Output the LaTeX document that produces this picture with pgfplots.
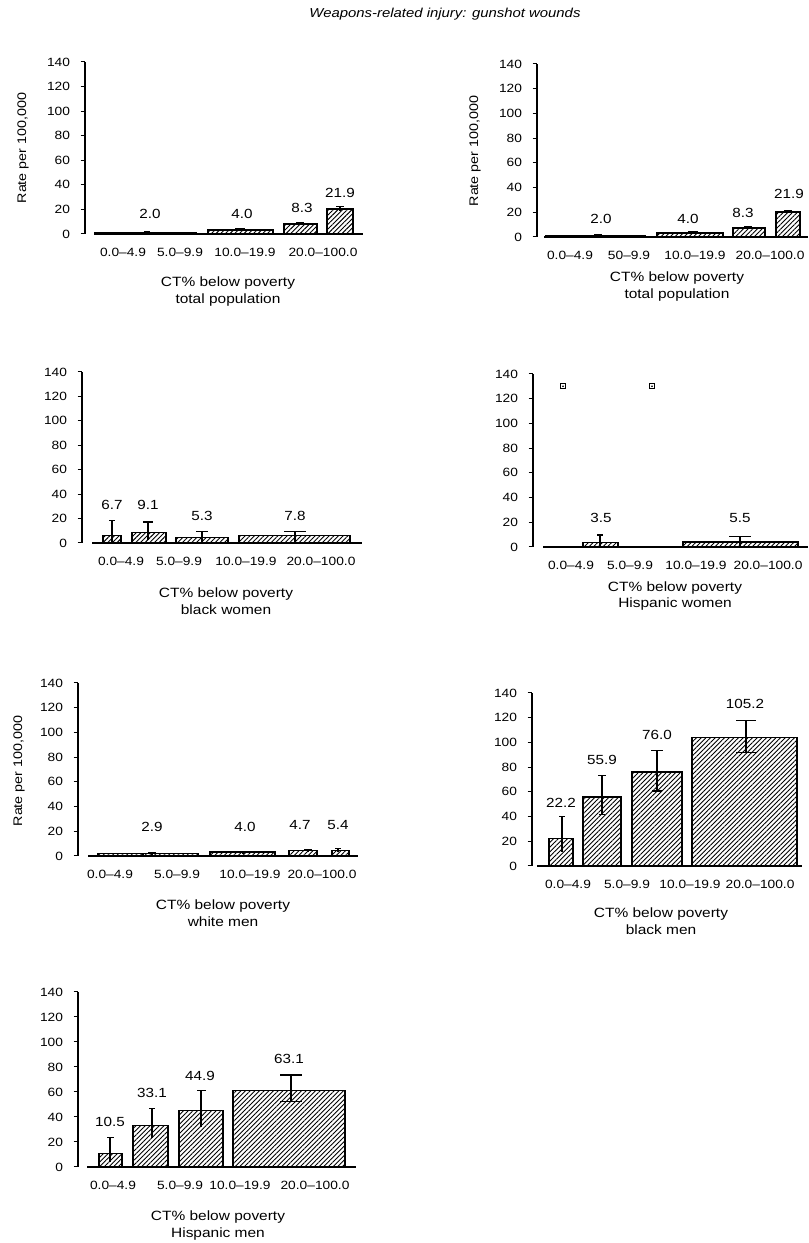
\documentclass[border=0pt]{standalone}
\usepackage{fontspec}
\setmainfont{Liberation Sans}[FakeStretch=1.15]
\usepackage{pgfplots}
\pgfplotsset{compat=1.18}
\usetikzlibrary{patterns.meta}
\newcommand\tkf{\fontsize{12}{14}\selectfont}
\newcommand\vlf{\fontsize{13.3}{15}\selectfont}
\newcommand\xlf{\fontsize{13.5}{17}\selectfont}
\newcommand\ylf{\fontsize{12.5}{15}\selectfont}
\tikzset{barsty/.style={draw=black, line width=1.2bp, pattern={Lines[angle=45,distance=3.3bp,line width=0.9bp]}},
  errsty/.style={draw=black, line width=1.1bp},
  basesty/.style={draw=black, line width=1.8bp}}
\newcommand{\mybar}[3]{\addplot[barsty] coordinates {(#1,0) (#1,#3) (#2,#3) (#2,0)} -- cycle;}
\newcommand{\myerr}[5]{\addplot[errsty] coordinates {(#1,#2) (#1,#3)};
  \addplot[errsty] coordinates {(#4,#3) (#5,#3)};}
\newcommand{\mycap}[3]{\addplot[errsty] coordinates {(#1,#3) (#2,#3)};}
\newcommand{\base}[2]{\addplot[basesty] coordinates {(#1,0) (#2,0)};}
\pgfplotsset{
  panel/.style={
    scale only axis, clip=false, anchor=south west,
    ymin=0, ymax=140, ytick={0,20,...,140},
    enlargelimits=false,
    axis x line=bottom, axis y line=left,
    axis line style={-},
    x axis line style={draw=none},
    y axis line style={-, line width=1.4bp},
    tick align=outside, major tick length=4.5bp,
    xtick style={draw=none},
    ytick style={line width=1bp, black},
    /pgf/number format/assume math mode=true,
    tick label style={font=\tkf},
    yticklabel style={xshift=-7bp},
    xticklabel style={anchor=center, yshift=-14bp},
  }
}
\begin{document}
\begin{tikzpicture}[x=1bp,y=1bp]
\useasboundingbox (0,0) rectangle (809,1243);
\node[font=\fontsize{13}{15}\selectfont\itshape] at (445,1229) {Weapons-related injury: gunshot wounds};

% Panel 1: total population (left)
\begin{axis}[panel, at={(85bp,1009bp)}, xmin=85, xmax=365, width=280bp, height=172bp,
  xtick={123,180,245,323}, xticklabels={0.0--4.9,5.0--9.9,10.0--19.9,20.0--100.0}]
\base{95}{363}
\mybar{95}{150}{1.3}
\mybar{150}{196}{0.9}
\mybar{208}{273}{3.2}
\mybar{284}{317}{8.1}
\mybar{327}{353}{20.3}
\myerr{147}{0.5}{2.3}{144}{150}
\myerr{240}{2.5}{4.3}{235}{245}
\myerr{300}{7}{9.2}{296}{304}
\myerr{340}{19}{22.2}{336}{344}
\node[font=\vlf] at (axis cs:150,16) {2.0};
\node[font=\vlf] at (axis cs:242,16) {4.0};
\node[font=\vlf] at (axis cs:302,21.2) {8.3};
\node[font=\vlf] at (axis cs:340,33.4) {21.9};
\end{axis}
\node[font=\ylf, rotate=90] at (23,1095) {Rate per 100,000};
\node[font=\xlf, align=center, inner sep=0pt] at (228,951.5) {CT\% below poverty\\total population};

% Panel 2: total population (right)
\begin{axis}[panel, at={(537bp,1006bp)}, xmin=537, xmax=808, width=271bp, height=173bp,
  xtick={570,629,695,770}, xticklabels={0.0--4.9,50--9.9,10.0--19.9,20.0--100.0}]
\base{544}{808}
\mybar{546}{605}{1.3}
\mybar{605}{645}{0.9}
\mybar{657}{723}{3.2}
\mybar{733}{765}{7.3}
\mybar{776}{800}{20.2}
\myerr{598}{0.5}{2.2}{594}{602}
\myerr{693}{2.5}{4.0}{688}{698}
\myerr{748}{6.5}{8.5}{744}{752}
\myerr{788}{19}{21.5}{784}{792}
\node[font=\vlf] at (axis cs:601,14.6) {2.0};
\node[font=\vlf] at (axis cs:688,14.6) {4.0};
\node[font=\vlf] at (axis cs:743,19.4) {8.3};
\node[font=\vlf] at (axis cs:789,34.8) {21.9};
\end{axis}
\node[font=\ylf, rotate=90] at (475,1092) {Rate per 100,000};
\node[font=\xlf, align=center, inner sep=0pt] at (677,956.5) {CT\% below poverty\\total population};

% Panel 3: black women
\begin{axis}[panel, at={(82bp,700bp)}, xmin=82, xmax=362, width=280bp, height=171bp,
  xtick={121,179,246,321}, xticklabels={0.0--4.9,5.0--9.9,10.0--19.9,20.0--100.0}]
\base{92}{362}
\mybar{103}{121}{6.2}
\mybar{132}{166}{8.6}
\mybar{176}{228}{4.6}
\mybar{239}{350}{5.9}
\myerr{112}{0.5}{18.3}{109}{115}
\myerr{148}{2.5}{17.2}{143}{153}
\myerr{202}{1}{9.3}{196}{208}
\myerr{295}{1}{9.3}{284}{306}
\node[font=\vlf] at (axis cs:112,31.1) {6.7};
\node[font=\vlf] at (axis cs:148,31.1) {9.1};
\node[font=\vlf] at (axis cs:202,22.4) {5.3};
\node[font=\vlf] at (axis cs:295,22.4) {7.8};
\end{axis}
\node[font=\xlf, align=center, inner sep=0pt] at (226,641.5) {CT\% below poverty\\black women};

% Panel 4: Hispanic women
\begin{axis}[panel, at={(533bp,696bp)}, xmin=533, xmax=808, width=275bp, height=173bp,
  xtick={571,630,696,768}, xticklabels={0.0--4.9,5.0--9.9,10.0--19.9,20.0--100.0}]
\base{543}{808}
\mybar{583}{618}{3.5}
\mybar{683}{798}{4.0}
\myerr{600}{1}{9.7}{597}{603}
\myerr{740}{0}{8.3}{729}{751}
\addplot[only marks, mark=square, mark size=2.4bp, mark options={line width=1bp}] coordinates {(563,130) (652,130)};
\addplot[only marks, mark=*, mark size=0.6bp] coordinates {(563,130) (652,130)};
\node[font=\vlf] at (axis cs:601,23.2) {3.5};
\node[font=\vlf] at (axis cs:740,23.2) {5.5};
\end{axis}
\node[font=\xlf, align=center, inner sep=0pt] at (675,647) {CT\% below poverty\\Hispanic women};

% Panel 5: white men
\begin{axis}[panel, at={(78bp,387bp)}, xmin=78, xmax=358, width=280bp, height=173bp,
  xtick={110,177,250,322}, xticklabels={0.0--4.9,5.0--9.9,10.0--19.9,20.0--100.0}]
\base{88}{358}
\mybar{98}{143}{2.2}
\mybar{143}{198}{1.8}
\mybar{210}{275}{3.2}
\mybar{289}{317}{4.2}
\mybar{332}{349}{4.3}
\myerr{152}{1}{3}{148}{156}
\myerr{243}{2}{3.8}{238}{248}
\myerr{308}{3}{5.2}{304}{312}
\myerr{338}{3}{6.3}{335}{341}
\node[font=\vlf] at (axis cs:152,23.5) {2.9};
\node[font=\vlf] at (axis cs:245,23.5) {4.0};
\node[font=\vlf] at (axis cs:300,25) {4.7};
\node[font=\vlf] at (axis cs:338,25) {5.4};
\end{axis}
\node[font=\ylf, rotate=90] at (19,472) {Rate per 100,000};
\node[font=\xlf, align=center, inner sep=0pt] at (223,330) {CT\% below poverty\\white men};

% Panel 6: black men
\begin{axis}[panel, at={(532bp,377bp)}, xmin=532, xmax=802, width=270bp, height=173bp,
  xtick={568,627,690,760}, xticklabels={0.0--4.9,5.0--9.9,10.0--19.9,20.0--100.0}]
\base{537}{802}
\mybar{549}{573}{22.2}
\mybar{583}{621}{55.9}
\mybar{632}{682}{76.0}
\mybar{692}{797}{104.0}
\myerr{562}{11.6}{39.9}{559}{565}
\myerr{602}{42}{73}{598}{606}
\mycap{599}{605}{42}
\myerr{657}{60.7}{93.3}{651}{663}
\mycap{652}{662}{60.7}
\myerr{746}{92}{118.1}{736}{756}
\mycap{736}{756}{92}
\node[font=\vlf] at (axis cs:561,51) {22.2};
\node[font=\vlf] at (axis cs:602,85.8) {55.9};
\node[font=\vlf] at (axis cs:657,106) {76.0};
\node[font=\vlf] at (axis cs:745,131.1) {105.2};
\end{axis}
\node[font=\xlf, align=center, inner sep=0pt] at (661,322) {CT\% below poverty\\black men};

% Panel 7: Hispanic men
\begin{axis}[panel, at={(78bp,76bp)}, xmin=78, xmax=356, width=278bp, height=175bp,
  xtick={113,180,240,315}, xticklabels={0.0--4.9,5.0--9.9,10.0--19.9,20.0--100.0}]
\base{87}{356}
\mybar{99}{122}{10.5}
\mybar{133}{168}{33.1}
\mybar{179}{223}{44.9}
\mybar{233}{345}{61.5}
\myerr{110}{4}{23.5}{107}{114}
\myerr{152}{23}{46.9}{149}{155}
\myerr{201}{31.7}{61}{197}{206}
\myerr{291}{52.3}{73.6}{280}{302}
\mycap{280}{302}{52.3}
\node[font=\vlf] at (axis cs:110,36) {10.5};
\node[font=\vlf] at (axis cs:152,59.2) {33.1};
\node[font=\vlf] at (axis cs:200,72.8) {44.9};
\node[font=\vlf] at (axis cs:289,86.4) {63.1};
\end{axis}
\node[font=\xlf, align=center, inner sep=0pt] at (218,17.5) {CT\% below poverty\\Hispanic men};
\end{tikzpicture}
\end{document}
